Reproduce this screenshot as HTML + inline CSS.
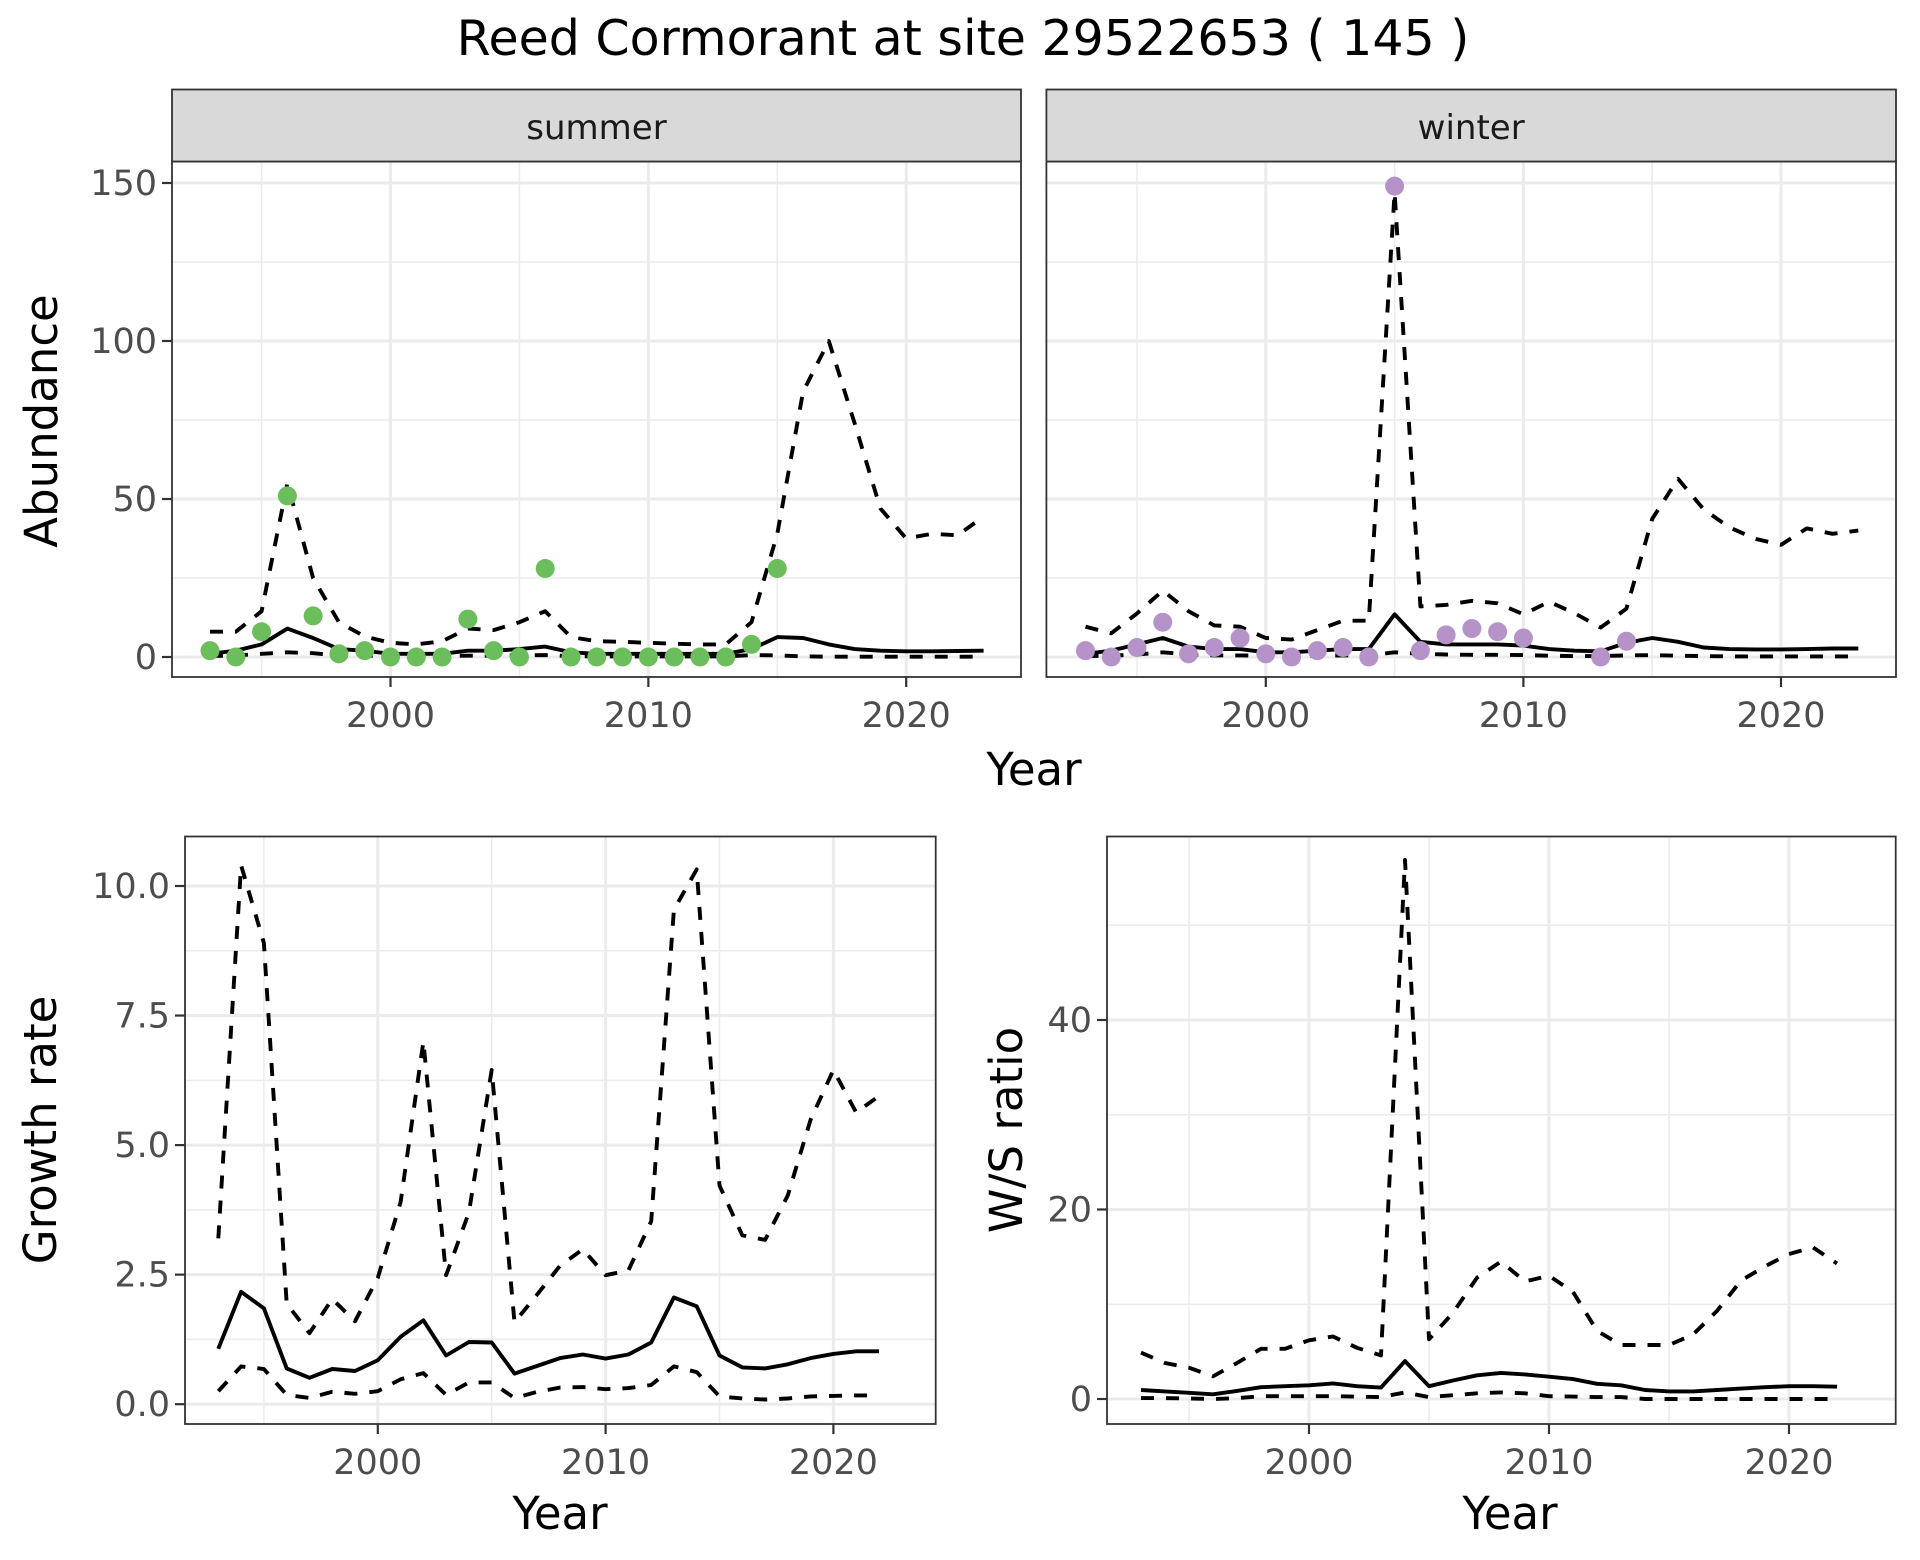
<!DOCTYPE html>
<html><head><meta charset="utf-8"><style>
html,body{margin:0;padding:0;background:#fff;}
svg{display:block;font-family:"DejaVu Sans","Liberation Sans",sans-serif;}
</style></head><body>
<svg id="fig" width="1920" height="1560" viewBox="0 0 1920 1560" xmlns="http://www.w3.org/2000/svg">
<rect width="1920" height="1560" fill="#fff"/>
<text x="963" y="55" font-size="49" text-anchor="middle" fill="#000">Reed Cormorant at site 29522653 ( 145 )</text>
</svg>
<script>
const yearsA = [1993,1994,1995,1996,1997,1998,1999,2000,2001,2002,2003,2004,2005,2006,2007,2008,2009,2010,2011,2012,2013,2014,2015,2016,2017,2018,2019,2020,2021,2022,2023];
const summerPtYears = [1993,1994,1995,1996,1997,1998,1999,2000,2001,2002,2003,2004,2005,2006,2007,2008,2009,2010,2011,2012,2013,2014,2015];
const summerPts = [2,0,8,51,13,1,2,0,0,0,12,2,0,28,0,0,0,0,0,0,0,4,28];
const summerMid = [1,2,4,9,6,2.5,2,1,1,1,2,2,2.5,3.3,1.5,1,1,1,1,1,1,2.5,6.3,6,4,2.5,2,1.8,1.8,1.9,2];
const summerHi = [8,8,14.5,55,25,11,6.5,4.5,4,5,9,8.5,11,14.5,6.3,5,4.8,4.5,4.2,4,4,11,39,84,100,74,47,37.5,39,38.5,44.5];
const summerLo = [0.3,0.5,1,1.5,1.2,0.5,0.4,0.3,0.3,0.3,0.4,0.4,0.5,0.6,0.3,0.2,0.2,0.2,0.2,0.2,0.2,0.6,0.5,0.2,0.1,0.1,0.1,0.1,0.1,0.1,0.1];
const winterPtYears = [1993,1994,1995,1996,1997,1998,1999,2000,2001,2002,2003,2004,2005,2006,2007,2008,2009,2010,2013,2014];
const winterPts = [2,0,3,11,1,3,6,1,0,2,3,0,149,2,7,9,8,6,0,5];
const winterMid = [1,2,4,6,3.3,2.5,2.5,1.5,1.5,2,2.5,2.5,13.5,4.8,4,4,4,3.6,2.5,2,1.8,4.5,6,4.8,3,2.5,2.4,2.4,2.5,2.7,2.7];
const winterHi = [9.6,7.5,13.8,21,14.5,10,9.6,6,5.5,8.5,11.5,11.5,147,16,16.5,17.8,17,13.5,17.5,13.8,9.3,15.3,43.7,56.4,46.7,41,37.4,35.5,40.7,39,40];
const winterLo = [0.3,0.4,0.8,1.5,0.8,0.5,0.5,0.4,0.3,0.4,0.5,0.5,1.5,1,0.8,0.7,0.7,0.6,0.4,0.3,0.3,0.5,0.6,0.4,0.3,0.2,0.2,0.2,0.2,0.2,0.2];
const yearsB = [1993,1994,1995,1996,1997,1998,1999,2000,2001,2002,2003,2004,2005,2006,2007,2008,2009,2010,2011,2012,2013,2014,2015,2016,2017,2018,2019,2020,2021,2022];
const growthMid = [1.07,2.17,1.85,0.69,0.51,0.68,0.64,0.85,1.3,1.62,0.94,1.2,1.19,0.59,0.74,0.89,0.96,0.88,0.96,1.19,2.06,1.89,0.94,0.71,0.69,0.77,0.89,0.97,1.02,1.02];
const growthHi = [3.2,10.4,8.9,1.94,1.37,2.03,1.6,2.44,3.9,7.0,2.49,3.7,6.45,1.58,2.12,2.67,2.99,2.49,2.58,3.53,9.54,10.32,4.22,3.26,3.17,4.03,5.49,6.45,5.63,5.95];
const growthLo = [0.25,0.73,0.68,0.18,0.12,0.24,0.2,0.25,0.48,0.6,0.18,0.42,0.42,0.12,0.24,0.32,0.33,0.29,0.31,0.37,0.73,0.62,0.15,0.11,0.09,0.11,0.15,0.16,0.17,0.17];
const wsMid = [0.95,0.8,0.65,0.5,0.85,1.25,1.35,1.45,1.65,1.35,1.2,4.0,1.35,1.95,2.5,2.75,2.6,2.35,2.1,1.6,1.45,0.95,0.8,0.8,0.95,1.1,1.25,1.35,1.35,1.3];
const wsHi = [4.9,3.8,3.3,2.4,3.8,5.3,5.3,6.2,6.6,5.4,4.6,56.9,6.3,9.1,12.8,14.5,12.4,13.0,11.3,7.2,5.7,5.7,5.7,6.8,9.3,12.5,14,15.3,16,14.3];
const wsLo = [0.1,0.1,0.05,0,0.1,0.3,0.3,0.3,0.3,0.25,0.2,0.7,0.2,0.4,0.6,0.7,0.6,0.3,0.25,0.2,0.2,0,0,0,0,0,0,0,0,0];
const abTicks = [0,50,100,150];
const grTicks = [0,2.5,5,7.5,10];
const grTickLabels = ["0.0","2.5","5.0","7.5","10.0"];
const wsTicks = [0,20,40];
const xTicks = [2000,2010,2020];

const NS="http://www.w3.org/2000/svg";
const svg=document.getElementById('fig');
function mk(tag,attrs,parent){const e=document.createElementNS(NS,tag);for(const k in attrs)e.setAttribute(k,attrs[k]);(parent||svg).appendChild(e);return e;}
function scale(d0,d1,r0,r1){return v=>r0+(v-d0)*(r1-r0)/(d1-d0);}

function panel(o){
  const g=mk('g',{});
  
  
  const x=scale(2000,2020,o.x2000,o.x2020), y=scale(0,o.yRefVal,o.y0,o.yRef);
  mk('rect',{x:o.L,y:o.T,width:o.R-o.L,height:o.B-o.T,fill:'#fff'},g);
  o.yMinor.forEach(v=>mk('line',{x1:o.L,x2:o.R,y1:y(v),y2:y(v),stroke:'#ebebeb','stroke-width':1.5},g));
  o.xMinor.forEach(v=>mk('line',{x1:x(v),x2:x(v),y1:o.T,y2:o.B,stroke:'#ebebeb','stroke-width':1.5},g));
  o.yTicks.forEach(v=>mk('line',{x1:o.L,x2:o.R,y1:y(v),y2:y(v),stroke:'#ebebeb','stroke-width':3},g));
  xTicks.forEach(v=>mk('line',{x1:x(v),x2:x(v),y1:o.T,y2:o.B,stroke:'#ebebeb','stroke-width':3},g));
  const line=(ys,vals,dash,nm)=>{
    const p=mk('polyline',{points:ys.map((yr,i)=>x(yr).toFixed(1)+','+y(vals[i]).toFixed(1)).join(' '),fill:'none',stroke:'#000','stroke-width':3.9,'stroke-linejoin':'round'},g);
    if(dash)p.setAttribute('stroke-dasharray','13 12');
    
    
  };
  line(o.years,o.lo,true,'lower-bound-line');
  line(o.years,o.hi,true,'upper-bound-line');
  line(o.years,o.mid,false,'estimate-line');
  if(o.ptYears){o.ptYears.forEach((yr,i)=>{
    const c=mk('circle',{cx:x(yr),cy:y(o.pts[i]),r:9.5,fill:o.color},g);
    
    
  });}
  mk('rect',{x:o.L,y:o.T,width:o.R-o.L,height:o.B-o.T,fill:'none',stroke:'#333','stroke-width':1.8},g);
  if(o.showY){o.yTicks.forEach((v,i)=>{
    mk('line',{x1:o.L-10,x2:o.L,y1:y(v),y2:y(v),stroke:'#333','stroke-width':2.2},g);
    const t=mk('text',{x:o.L-15,y:y(v)+12,'font-size':35,'text-anchor':'end',fill:'#4d4d4d'},g);
    t.textContent=o.yLabels?o.yLabels[i]:String(v);
    
    
  });}
  xTicks.forEach(v=>{
    mk('line',{x1:x(v),x2:x(v),y1:o.B,y2:o.B+10,stroke:'#333','stroke-width':2.2},g);
    const t=mk('text',{x:x(v),y:o.B+50,'font-size':35,'text-anchor':'middle',fill:'#4d4d4d'},g);
    t.textContent=String(v);
    
    
  });
  if(o.strip){
    const s=mk('rect',{x:o.L,y:89.5,width:o.R-o.L,height:72,fill:'#d9d9d9',stroke:'#333','stroke-width':1.8},g);
    
    
    const t=mk('text',{x:(o.L+o.R)/2,y:139,'font-size':34,'text-anchor':'middle',fill:'#1a1a1a'},g);
    t.textContent=o.strip;
    
    
  }
}

panel({name:'summer-abundance-panel',L:172,R:1021,T:161.5,B:677,x2000:390.5,x2020:906.2,y0:657,yRef:183,yRefVal:150,yTicks:abTicks,yMinor:[25,75,125],xMinor:[1995,2005,2015],years:yearsA,mid:summerMid,hi:summerHi,lo:summerLo,ptYears:summerPtYears,pts:summerPts,color:'#6BBE5B',showY:true,strip:'summer'});
panel({name:'winter-abundance-panel',L:1046.4,R:1896,T:161.5,B:677,x2000:1265.8,x2020:1781,y0:657,yRef:183,yRefVal:150,yTicks:abTicks,yMinor:[25,75,125],xMinor:[1995,2005,2015],years:yearsA,mid:winterMid,hi:winterHi,lo:winterLo,ptYears:winterPtYears,pts:winterPts,color:'#B593C8',showY:false,strip:'winter'});
panel({name:'growth-rate-panel',L:185,R:935.7,T:836.5,B:1424,x2000:377.8,x2020:833.4,y0:1404.2,yRef:886,yRefVal:10,yTicks:grTicks,yLabels:grTickLabels,yMinor:[1.25,3.75,6.25,8.75],xMinor:[1995,2005,2015],years:yearsB,mid:growthMid,hi:growthHi,lo:growthLo,showY:true});
panel({name:'ws-ratio-panel',L:1107,R:1895.7,T:836.5,B:1424,x2000:1309,x2020:1789,y0:1399,yRef:1020,yRefVal:40,yTicks:wsTicks,yMinor:[10,30,50],xMinor:[1995,2005,2015],years:yearsB,mid:wsMid,hi:wsHi,lo:wsLo,showY:true});

function label(txt,x,y,rot,nm){
  const t=mk('text',{x:x,y:y,'font-size':45,'text-anchor':'middle',fill:'#000'});
  if(rot)t.setAttribute('transform','rotate(-90 '+x+' '+y+')');
  t.textContent=txt;
  
  
}
label('Year',1034,785,false,'x-axis-title-abundance');
label('Abundance',57,421,true,'y-axis-title-abundance');
label('Year',560,1529,false,'x-axis-title-growth');
label('Growth rate',56,1130,true,'y-axis-title-growth');
label('Year',1510,1529,false,'x-axis-title-ws');
label('W/S ratio',1022,1130,true,'y-axis-title-ws');
</script>
</body></html>
